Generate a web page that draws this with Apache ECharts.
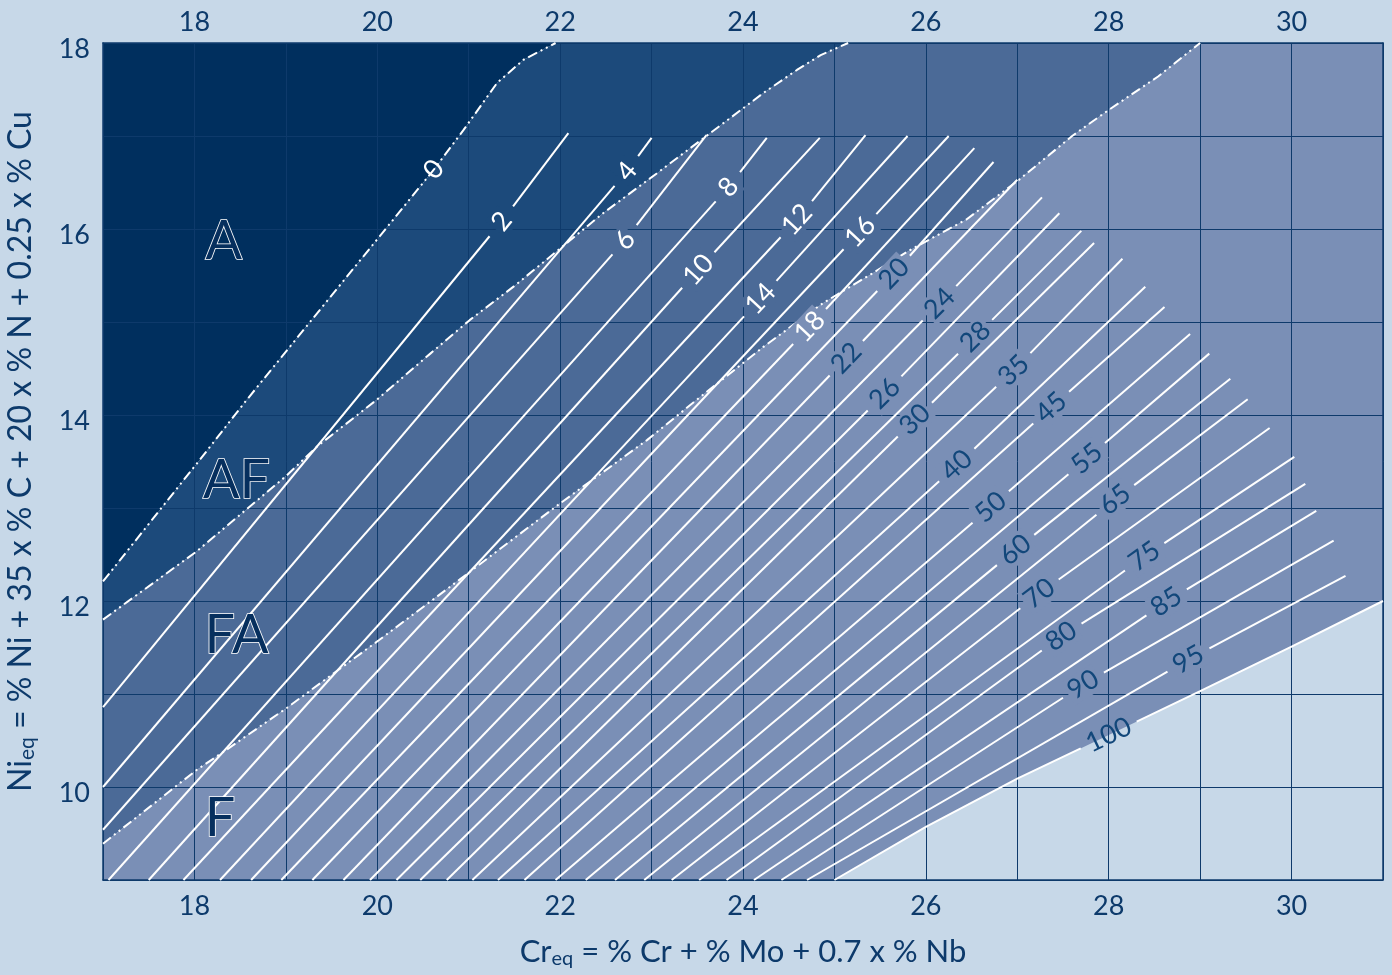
<!DOCTYPE html>
<html><head><meta charset="utf-8">
<script src="https://cdn.jsdelivr.net/npm/echarts@6/dist/echarts.min.js"></script>
<style>html,body{margin:0;padding:0;background:#c7d8e8;} #c{width:1392px;height:975px;}</style>
</head><body><div id="c"></div>
<script>
// ---------- data ----------
const X_TICKS = [18, 20, 22, 24, 26, 28, 30];
const Y_TICKS = [10, 12, 14, 16, 18];

// phase boundaries (dash-dot), [Cr_eq, Ni_eq]
const LINE_A_AF = [[17,12.21],[18.06,13.52],[18.57,14.16],[20.62,16.64],[20.94,17.06],[21.31,17.57],[21.6,17.82],[21.95,18]];
const ZERO_LABEL_INDEX = 3;
const LINE_AF_FA = [[17,11.8],[18.02,12.53],[19.01,13.35],[19.34,13.66],[19.99,14.16],[20.58,14.66],[21.01,15.02],[21.49,15.38],[22.0,15.79],[22.47,16.17],[23.06,16.6],[23.64,17.03],[24.22,17.46],[24.59,17.71],[24.85,17.87],[25.15,18]];
const LINE_FA_F = [[17,9.39],[18.02,10.18],[18.35,10.4],[19.01,10.85],[19.52,11.22],[20.02,11.58],[20.9,12.23],[22.0,13.05],[22.95,13.73],[23.49,14.16],[24.22,14.73],[24.87,15.2],[25.41,15.52],[25.82,15.77],[26.44,16.1],[27.02,16.53],[27.6,17.0],[28.0,17.28],[28.54,17.64],[29.0,18]];

// iso-ferrite-number lines: [start, label point, end]
const FN_VALUES = [2,4,6,8,10,12,14,16,18,20,22,24,26,28,30,35,40,45,50,55,60,65,70,75,80,85,90,95];
const FN_LINES = [
  [[17,10.86],[21.36,16.08],[22.09,17.03]],
  [[17,10.0],[22.73,16.62],[23.0,16.98]],
  [[17,9.54],[22.71,15.88],[23.6,17.01]],
  [[17.06,9],[23.84,16.45],[24.26,16.98]],
  [[17.5,9],[23.51,15.56],[24.84,16.98]],
  [[17.88,9],[24.59,16.1],[25.34,17.01]],
  [[18.28,9],[24.19,15.25],[25.8,17.0]],
  [[18.62,9],[25.28,15.97],[26.25,17.0]],
  [[18.95,9],[24.73,14.95],[26.53,16.87]],
  [[19.29,9],[25.65,15.52],[26.74,16.72]],
  [[19.63,9],[25.13,14.61],[27.0,16.53]],
  [[19.92,9],[26.15,15.2],[27.27,16.34]],
  [[20.21,9],[25.55,14.23],[27.46,16.17]],
  [[20.47,9],[26.54,14.84],[27.7,15.98]],
  [[20.76,9],[25.88,13.95],[27.84,15.85]],
  [[21.04,9],[26.96,14.48],[28.15,15.68]],
  [[21.32,9],[26.34,13.46],[28.4,15.38]],
  [[21.61,9],[27.37,14.08],[28.61,15.16]],
  [[21.95,9],[26.71,13.01],[28.89,14.87]],
  [[22.28,9],[27.76,13.53],[29.1,14.66]],
  [[22.6,9],[26.98,12.55],[29.33,14.39]],
  [[22.92,9],[28.07,13.09],[29.52,14.17]],
  [[23.22,9],[27.24,12.08],[29.76,13.86]],
  [[23.52,9],[28.39,12.48],[30.03,13.55]],
  [[23.82,9],[27.48,11.62],[30.15,13.26]],
  [[24.12,9],[28.63,11.99],[30.27,12.97]],
  [[24.42,9],[27.72,11.1],[30.46,12.65]],
  [[24.7,9],[28.87,11.37],[30.59,12.27]]
];
const FN_100 = [[25,9],[26,9.57],[27,10.09],[28.0,10.56],[29,11.03],[30,11.51],[31,12.0]];
const FN100_LABEL_INDEX = 3;

const REGION_NAMES = ['A', 'AF', 'FA', 'F'];
const REGION_NAME_POS = [[18.32,15.86],[18.46,13.3],[18.46,11.63],[18.28,9.66]];

// ---------- styles ----------
const BG = '#c7d8e8';
const REGION_COLORS = ['#002f5e', '#1c4a7b', '#4b6a97', '#7a8fb6'];
const GRID_COLOR = '#0e3a6b';
const TEXT = '#0d3a6b';
const DARK_LABEL = '#12477a';
const FONT = 'Lato, "Open Sans", sans-serif';
const GRID = {left: 103, right: 9, top: 43, bottom: 95};
const UX = (1392 - GRID.left - GRID.right) / 14;
const UY = (975 - GRID.top - GRID.bottom) / 9;

// ---------- helpers ----------
function moveToward(a, b, gpx) {
  const dx = (b[0]-a[0])*UX, dy = (b[1]-a[1])*UY, d = Math.hypot(dx, dy);
  const t = Math.min(gpx / d, 0.9);
  return [a[0] + (b[0]-a[0])*t, a[1] + (b[1]-a[1])*t];
}
function angleAt(pts, i) {
  const p = pts[Math.max(i-1,0)], n = pts[Math.min(i+1, pts.length-1)];
  return Math.atan2((n[1]-p[1])*UY, (n[0]-p[0])*UX) * 180 / Math.PI;
}
function yOn(line, x) {
  if (x <= line[0][0]) return line[0][1];
  for (let i = 1; i < line.length; i++) {
    if (x <= line[i][0]) {
      const a = line[i-1], b = line[i];
      return a[1] + (b[1]-a[1]) * (x-a[0]) / (b[0]-a[0]);
    }
  }
  return 18;
}
function regionAt(x, y) {
  if (y > yOn(LINE_A_AF, x)) return 0;
  if (y > yOn(LINE_AF_FA, x)) return 1;
  if (y > yOn(LINE_FA_F, x)) return 2;
  if (y > yOn(FN_100, x) + 0.05) return 3;
  return 4;
}

// ---------- build ----------
const REGION_POLYS = [
  [...LINE_A_AF, [17,18]],
  [...LINE_AF_FA, ...LINE_A_AF.slice().reverse()],
  [...LINE_FA_F, ...LINE_AF_FA.slice().reverse()],
  [[17,9], ...FN_100, [31,18], ...LINE_FA_F.slice().reverse()]
];

const labeled = FN_VALUES.map((v, i) => ({text: String(v), value: v, pts: FN_LINES[i], li: 1}));
labeled.push({text: '100', value: 100, pts: FN_100, li: FN100_LABEL_INDEX});

const series = [];
series.push({
  type: 'custom', z: 1, silent: true, animation: false,
  data: REGION_POLYS.map(p => p[0]),
  renderItem: (params, api) => {
    const poly = REGION_POLYS[params.dataIndex];
    return {type: 'polygon', shape: {points: poly.map(p => api.coord(p))},
            style: {fill: REGION_COLORS[params.dataIndex]}};
  }
});

const whiteLine = {color: '#ffffff', width: 2};
const dashDot = {color: '#ffffff', width: 2, type: [10, 4, 2, 4, 2, 4]};

const LABELS = [];
labeled.forEach(l => {
  const L = l.pts[l.li];
  const g = l.text.length === 1 ? 19 : (l.text.length === 2 ? 24 : 31);
  const seg1 = [...l.pts.slice(0, l.li), moveToward(L, l.pts[l.li-1], g)];
  const seg2 = [moveToward(L, l.pts[l.li+1], g), ...l.pts.slice(l.li+1)];
  [seg1, seg2].forEach(seg => series.push({
    type: 'line', data: seg, symbol: 'none', z: 5, silent: true, animation: false,
    lineStyle: whiteLine
  }));
  const r = regionAt(L[0], L[1]);
  LABELS.push({x: L[0], y: L[1], text: l.text, rot: angleAt(l.pts, l.li),
    color: l.value <= 18 ? '#ffffff' : DARK_LABEL,
    bg: r < 4 ? REGION_COLORS[r] : null});
});
const z0 = LINE_A_AF[ZERO_LABEL_INDEX];
LABELS.push({x: z0[0], y: z0[1], text: '0', rot: angleAt(LINE_A_AF, ZERO_LABEL_INDEX), color: '#ffffff', bg: null});

[LINE_A_AF, LINE_AF_FA, LINE_FA_F].forEach(line => series.push({
  type: 'line', data: line, symbol: 'none', z: 5, silent: true, animation: false,
  lineStyle: dashDot
}));

series.push({
  type: 'custom', z: 6, silent: true, animation: false,
  data: LABELS.map(d => [d.x, d.y]),
  renderItem: (params, api) => {
    const d = LABELS[params.dataIndex];
    const p = api.coord([d.x, d.y]);
    const style = {text: d.text, fill: d.color, fontSize: 27, fontFamily: FONT,
                   align: 'center', verticalAlign: 'middle'};
    if (d.bg) { style.backgroundColor = d.bg; style.padding = [0, 2]; }
    return {type: 'text', x: p[0], y: p[1], rotation: d.rot * Math.PI / 180, style};
  }
});

series.push({
  type: 'custom', z: 7, silent: true, animation: false,
  data: REGION_NAME_POS,
  renderItem: (params, api) => {
    const p = api.coord(REGION_NAME_POS[params.dataIndex]);
    return {type: 'text', x: p[0], y: p[1], style: {
      text: REGION_NAMES[params.dataIndex], fill: '#062f5e', stroke: '#ffffff', lineWidth: 1.6,
      fontSize: 54, fontFamily: FONT, align: 'center', verticalAlign: 'middle'}};
  }
});

function nameRich(size) {
  return {
    m: {fontSize: size, color: TEXT, fontFamily: FONT},
    s: {fontSize: Math.round(size * 0.65), color: TEXT, fontFamily: FONT, padding: [14, 0, 0, 0]}
  };
}
const axisLineStyle = {show: true, lineStyle: {color: GRID_COLOR, width: 1.5}};
const tickFont = {color: TEXT, fontSize: 27, fontFamily: FONT};

const option = {
  backgroundColor: BG,
  animation: false,
  grid: {left: GRID.left, right: GRID.right, top: GRID.top, bottom: GRID.bottom,
         containLabel: false, outerBoundsMode: 'none'},
  xAxis: [
    {type: 'value', min: 17, max: 31, interval: 1, position: 'bottom', z: 3,
     axisLine: axisLineStyle, axisTick: {show: false},
     splitLine: {show: true, lineStyle: {color: GRID_COLOR, width: 1}},
     axisLabel: Object.assign({formatter: v => X_TICKS.includes(v) ? String(v) : '', margin: 13}, tickFont),
     name: '{m|Cr}{s|eq}{m| = % Cr + % Mo + 0.7 x % Nb}', nameLocation: 'middle', nameGap: 55,
     nameTextStyle: {rich: nameRich(31)}},
    {type: 'value', min: 17, max: 31, interval: 1, position: 'top', z: 3,
     axisLine: axisLineStyle, axisTick: {show: false}, splitLine: {show: false},
     axisLabel: Object.assign({formatter: v => X_TICKS.includes(v) ? String(v) : '', margin: 7}, tickFont)}
  ],
  yAxis: [
    {type: 'value', min: 9, max: 18, interval: 1, position: 'left', z: 3,
     axisLine: axisLineStyle, axisTick: {show: false},
     splitLine: {show: true, lineStyle: {color: GRID_COLOR, width: 1}},
     axisLabel: {formatter: v => Y_TICKS.includes(v) ? '{t|' + v + '}' : '', margin: 13,
                 rich: {t: Object.assign({padding: [13, 0, 0, 0]}, tickFont)}},
     name: '{m|Ni}{s|eq}{m| = % Ni + 35 x % C + 20 x % N + 0.25 x % Cu}', nameLocation: 'middle', nameGap: 65,
     nameTextStyle: {rich: nameRich(32), padding: [0, 0, 0, 20]}},
    {type: 'value', min: 9, max: 18, interval: 1, position: 'right', z: 3,
     axisLine: axisLineStyle, axisTick: {show: false}, splitLine: {show: false}, axisLabel: {show: false}}
  ],
  series: series
};

const chart = echarts.init(document.getElementById('c'), null, {renderer: 'canvas'});
chart.setOption(option);
</script>
</body></html>
